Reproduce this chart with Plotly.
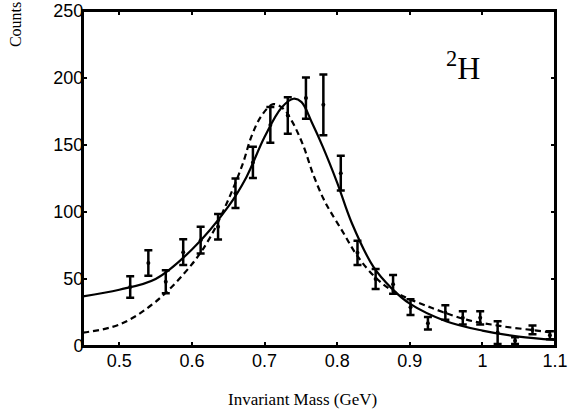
import plotly.graph_objects as go

# Data points (invariant mass in GeV, counts, symmetric error)
mass = [0.515, 0.540, 0.564, 0.588, 0.612, 0.636, 0.660, 0.684, 0.708, 0.732,
        0.757, 0.781, 0.805, 0.828, 0.853, 0.877, 0.901, 0.925, 0.949, 0.973,
        0.997, 1.021, 1.045, 1.069, 1.093]
counts = [44, 62, 48, 70, 79, 89, 114, 137, 165, 172,
          185, 180, 129, 69.5, 50, 46, 29, 17, 25, 21,
          21, 10, 4, 12, 8]
errors = [8, 9.5, 8.6, 9.6, 10, 9.6, 11, 11.7, 13.3, 13.6,
          15.4, 22.7, 13, 9, 7.4, 7, 5.8, 4.7, 5.5, 5,
          5, 8.5, 2.5, 3.3, 3]

# Solid curve
solid_x = [0.45, 0.50, 0.55, 0.60, 0.65, 0.675, 0.70, 0.7236, 0.74, 0.751,
           0.765, 0.78, 0.80, 0.82, 0.85, 0.875, 0.90, 0.95, 1.00, 1.05, 1.10]
solid_y = [37, 42, 50, 72, 104, 126, 156, 178, 184.5, 182,
           167, 149, 122, 92, 59, 43, 31.6, 18.5, 11.5, 7, 4.5]

# Dashed curve
dashed_x = [0.45, 0.50, 0.55, 0.60, 0.625, 0.65, 0.67, 0.6824, 0.696, 0.712,
            0.726, 0.7375, 0.753, 0.767, 0.781, 0.79, 0.808, 0.828, 0.853, 0.877,
            0.93, 0.978, 1.024, 1.07, 1.10]
dashed_y = [10, 16, 33, 61, 81, 109, 136, 157, 172, 180.5,
            177, 168, 150, 128, 110, 101, 85, 67, 51, 41,
            28.5, 19.7, 15, 11.8, 9.8]

x_ticks = [0.5, 0.6, 0.7, 0.8, 0.9, 1.0, 1.1]
x_tick_text = ["0.5", "0.6", "0.7", "0.8", "0.9", "1", "1.1"]
y_ticks = [0, 50, 100, 150, 200, 250]

fig = go.Figure()

fig.add_trace(go.Scatter(
    x=dashed_x, y=dashed_y, mode="lines", line_shape="spline",
    line=dict(color="black", width=2.2, dash="6px,4px"), showlegend=False))

fig.add_trace(go.Scatter(
    x=solid_x, y=solid_y, mode="lines", line_shape="spline",
    line=dict(color="black", width=2.2), showlegend=False))

fig.add_trace(go.Scatter(
    x=mass, y=counts, mode="markers",
    marker=dict(color="black", size=4, symbol="circle"),
    error_y=dict(type="data", array=errors, visible=True,
                 color="black", thickness=2.5, width=4),
    showlegend=False))

axis_common = dict(showline=True, linecolor="black", linewidth=2, mirror="ticks",
                   ticks="inside", ticklen=4, tickwidth=1.5, tickcolor="black",
                   showgrid=False, zeroline=False, automargin=False,
                   ticklabeloverflow="allow",
                   tickfont=dict(family="Liberation Sans, Arial", size=18, color="black"))

fig.update_xaxes(range=[0.45, 1.1], tickvals=x_ticks, ticktext=x_tick_text,
                 ticklabelstandoff=-3, **axis_common)
fig.update_yaxes(range=[0, 250], tickvals=y_ticks, ticklabelstandoff=-6, **axis_common)

# frame box
fig.add_shape(type="rect", xref="paper", yref="paper", x0=0, y0=0, x1=1, y1=1,
              line=dict(color="black", width=2), fillcolor="rgba(0,0,0,0)", layer="above")

fig.add_annotation(text="<sup>2</sup>H", xref="paper", yref="paper",
                   x=0.805, y=0.837, xanchor="center", yanchor="middle", showarrow=False,
                   font=dict(family="Liberation Serif, Times New Roman", size=32, color="black"))

fig.add_annotation(text="Invariant Mass (GeV)", xref="paper", yref="paper",
                   x=0.466, y=-0.161, yanchor="middle", showarrow=False,
                   font=dict(family="Liberation Serif, Times New Roman", size=17, color="black"))

fig.add_annotation(text="Counts", xref="paper", yref="paper",
                   x=-0.144, y=0.958, textangle=-90, xanchor="center", yanchor="middle",
                   showarrow=False,
                   font=dict(family="Liberation Serif, Times New Roman", size=16, color="black"))

fig.update_layout(template="none", width=570, height=417,
                  margin=dict(l=83, r=15, t=11, b=71, pad=0, autoexpand=False),
                  plot_bgcolor="white", paper_bgcolor="white", showlegend=False)

fig.write_html("out.html", config={"displayModeBar": False},
               post_script="document.body.style.margin='0';")
